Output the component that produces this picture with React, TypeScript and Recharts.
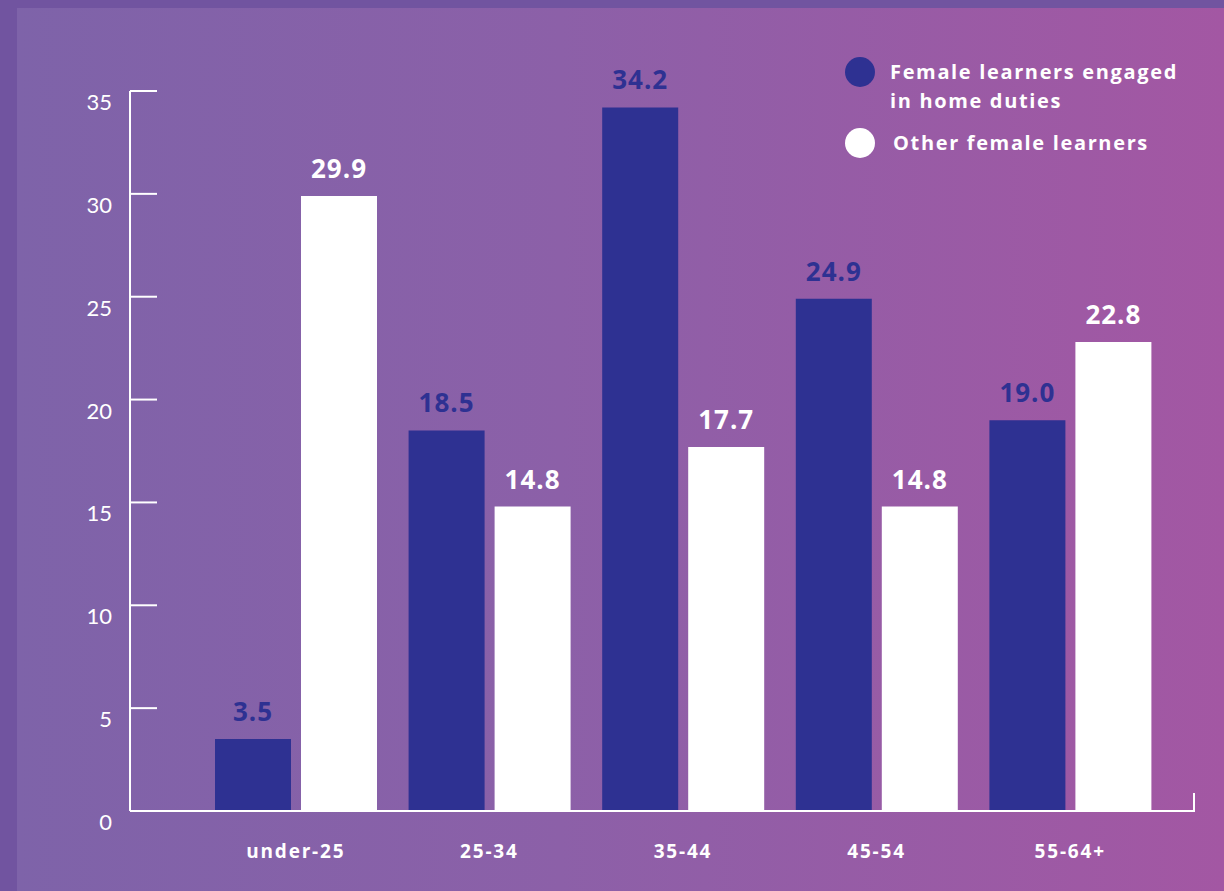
import React from "react";
import * as Recharts from "recharts";

const { BarChart, Bar, XAxis, YAxis, LabelList, Customized } = Recharts as any;

// Share of female learners by age group (%)
const AGE_GROUPS = ["under-25", "25-34", "35-44", "45-54", "55-64+"];
const HOME_DUTIES = [3.5, 18.5, 34.2, 24.9, 19.0];
const OTHER_LEARNERS = [29.9, 14.8, 17.7, 14.8, 22.8];
const Y_TICKS = [0, 5, 10, 15, 20, 25, 30, 35];

const SERIES = [
  { key: "homeDuties", label: ["Female learners engaged", "in home duties"], color: "#2e3192" },
  { key: "other", label: ["Other female learners"], color: "#ffffff" },
];

const FONT = "'Open Sans', Lato, sans-serif";
const TICK_FONT = "Lato, 'Open Sans', sans-serif";

const data = AGE_GROUPS.map((age, i) => ({
  age,
  homeDuties: HOME_DUTIES[i],
  other: OTHER_LEARNERS[i],
}));

function YTick({ x, y, payload }: any) {
  return (
    <g>
      <line x1={x} x2={x + 27} y1={y} y2={y} stroke="#fff" strokeWidth={2} />
      <text x={x - 18} y={y + 19} textAnchor="end" fill="#fff" fontSize={22} fontFamily={TICK_FONT}>
        {payload.value}
      </text>
    </g>
  );
}

function XTick({ x, y, payload }: any) {
  return (
    <text
      x={x}
      y={y + 47}
      textAnchor="middle"
      fill="#fff"
      fontSize={19}
      fontWeight={700}
      letterSpacing={1.8}
      fontFamily={FONT}
    >
      {payload.value}
    </text>
  );
}

// little upward tick closing the x axis on the right
function EndTick() {
  const hook = (Recharts as any).usePlotArea;
  const area = hook ? hook() : null;
  if (!area) return null;
  const x = area.x + area.width - 1;
  const y = area.y + area.height;
  return <line x1={x} x2={x} y1={y} y2={y - 18} stroke="#fff" strokeWidth={2} />;
}

function LegendBox() {
  return (
    <div
      style={{
        position: "absolute",
        left: 845,
        top: 57,
        fontFamily: FONT,
        color: "#fff",
        fontWeight: 700,
        fontSize: 20,
        letterSpacing: 1.65,
        lineHeight: "29px",
      }}
    >
      {SERIES.map((s, i) => (
        <div key={s.key} style={{ display: "flex", alignItems: "flex-start", marginBottom: i === 0 ? 13 : 0 }}>
          <span
            style={{
              width: 30,
              height: 30,
              borderRadius: "50%",
              background: s.color,
              flex: "none",
              marginRight: i === 0 ? 15 : 18,
            }}
          />
          <span>
            {s.label.map((l, j) => (
              <div key={j}>{l}</div>
            ))}
          </span>
        </div>
      ))}
    </div>
  );
}

export default function App() {
  return (
    <div style={{ position: "absolute", left: 0, top: 0, width: 1224, height: 891, background: "#7154a0", overflow: "hidden" }}>
      <div
        style={{
          position: "absolute",
          left: 17,
          top: 8,
          right: 0,
          bottom: 0,
          background: "linear-gradient(90deg, #7e63a9 0%, #8c60a8 45%, #a357a3 100%)",
        }}
      />
      <div style={{ position: "absolute", left: 0, top: 0 }}>
        <BarChart
          width={1224}
          height={891}
          data={data}
          margin={{ top: 91, right: 29, bottom: 20, left: 70 }}
          barCategoryGap={16}
          barGap={10}
        >
          <XAxis
            dataKey="age"
            interval={0}
            padding={{ left: 69, right: 28 }}
            axisLine={{ stroke: "#fff", strokeWidth: 2 }}
            tickLine={false}
            tickSize={0}
            tickMargin={0}
            height={60}
            tick={<XTick />}
          />
          <YAxis
            domain={[0, 35]}
            ticks={Y_TICKS}
            width={60}
            axisLine={{ stroke: "#fff", strokeWidth: 2 }}
            tickLine={false}
            tickSize={0}
            tickMargin={0}
            tick={<YTick />}
          />
          {SERIES.map((s) => (
            <Bar key={s.key} dataKey={s.key} fill={s.color} isAnimationActive={false}>
              <LabelList
                dataKey={s.key}
                position="top"
                offset={18}
                fill={s.color}
                fontSize={26}
                fontWeight={700}
                letterSpacing={1}
                fontFamily={FONT}
                formatter={(v: any) => Number(v).toFixed(1)}
              />
            </Bar>
          ))}
          <Customized component={<EndTick />} />
        </BarChart>
      </div>
      <LegendBox />
    </div>
  );
}
